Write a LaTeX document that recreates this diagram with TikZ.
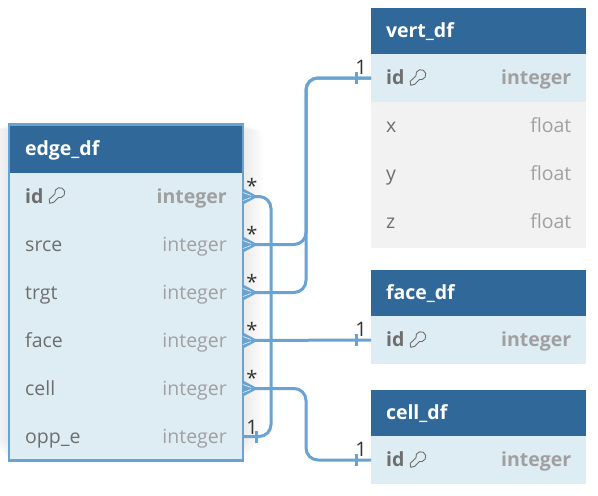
\documentclass[tikz,border=0pt]{standalone}
\usepackage{fontspec}
\setmainfont{Open Sans}
\usepackage{xcolor}
\usetikzlibrary{arrows.meta,positioning,fit,calc,backgrounds}
\definecolor{headblue}{HTML}{31689A}
\definecolor{rowblue}{HTML}{DEECF4}
\definecolor{rowgray}{HTML}{F2F2F2}
\definecolor{linkblue}{HTML}{69A3D2}
\definecolor{namegray}{HTML}{6E6E6E}
\definecolor{typegray}{HTML}{A0A0A0}
\begin{document}
\begin{tikzpicture}[
  x=1pt, y=-1pt,
  cellfont/.style={inner sep=0pt, text height=16pt, text depth=3pt, font=\fontsize{19.5}{22}\selectfont},
  boldfont/.style={inner sep=0pt, text height=16pt, text depth=3pt, font=\fontsize{19.5}{22}\selectfont\bfseries},
  tblhead/.style={rectangle, fill=headblue, minimum height=48pt, outer sep=0pt, text=white, boldfont},
  keyrow/.style={rectangle, fill=rowblue, minimum height=48pt, inner sep=0pt, outer sep=0pt},
  plainrow/.style={rectangle, fill=rowgray, minimum height=48pt, inner sep=0pt, outer sep=0pt},
  colname/.style={anchor=west, text=namegray, cellfont},
  keyname/.style={anchor=west, text=namegray, boldfont},
  coltype/.style={anchor=east, text=typegray, cellfont},
  keytype/.style={anchor=east, text=typegray, boldfont},
  rel/.style={draw=linkblue, line width=3pt},
  card/.style={text=black!80, inner sep=0pt, font=\fontsize{20}{22}\selectfont},
  keyicon/.pic={
    \draw[namegray, line width=0.9pt, line join=round, scale=1.12]
      (-1.85,-1.84) arc[start angle=165, end angle=465, radius=4.5] -- (-3,5.7) -- (-6.5,6.5) -- (-7,3) -- cycle;
  }
]
\useasboundingbox (0,0) rectangle (598,496);

% edge table
\node[tblhead, minimum width=234pt] (ehead) at (126,148.5) {};
\node[keyrow, minimum width=234pt, below=0pt of ehead] (eid) {};
\node[keyrow, minimum width=234pt, below=0pt of eid] (esrce) {};
\node[keyrow, minimum width=234pt, below=0pt of esrce] (etrgt) {};
\node[keyrow, minimum width=234pt, below=0pt of etrgt] (eface) {};
\node[keyrow, minimum width=234pt, below=0pt of eface] (ecell) {};
\node[keyrow, minimum width=234pt, below=0pt of ecell] (eopp) {};
\node[fit=(ehead)(eopp), draw=linkblue, line width=2.4pt, inner sep=0pt] (etable) {};

\node[tblhead, fill=none, minimum height=0pt, anchor=west] (etitle) at ([xshift=16pt]ehead.west) {edge\_df};
\node[keyname] (n1) at ([xshift=16pt]eid.west) {id};
\pic at (57,196) {keyicon};
\node[keytype] (t1) at ([xshift=-16pt]eid.east) {integer};
\node[colname] (n2) at ([xshift=16pt]esrce.west) {srce};
\node[coltype] (t2) at ([xshift=-16pt]esrce.east) {integer};
\node[colname] (n3) at ([xshift=16pt]etrgt.west) {trgt};
\node[coltype] (t3) at ([xshift=-16pt]etrgt.east) {integer};
\node[colname] (n4) at ([xshift=16pt]eface.west) {face};
\node[coltype] (t4) at ([xshift=-16pt]eface.east) {integer};
\node[colname] (n5) at ([xshift=16pt]ecell.west) {cell};
\node[coltype] (t5) at ([xshift=-16pt]ecell.east) {integer};
\node[colname] (n6) at ([xshift=16pt]eopp.west) {opp\_e};
\node[coltype] (t6) at ([xshift=-16pt]eopp.east) {integer};

% vert table
\node[tblhead, minimum width=215pt, minimum height=46pt] (vhead) at (478.5,31) {};
\node[keyrow, minimum width=215pt, below=0pt of vhead] (vid) {};
\node[plainrow, minimum width=215pt, below=0pt of vid] (vx) {};
\node[plainrow, minimum width=215pt, below=0pt of vx] (vy) {};
\node[plainrow, minimum width=215pt, minimum height=50pt, below=0pt of vy] (vz) {};

\node[tblhead, fill=none, minimum height=0pt, anchor=west] (vtitle) at ([xshift=15pt]vhead.west) {vert\_df};
\node[keyname] (vn1) at ([xshift=15pt]vid.west) {id};
\pic at (418,78) {keyicon};
\node[keytype] (vt1) at ([xshift=-14.5pt]vid.east) {integer};
\node[colname] (vn2) at ([xshift=15pt]vx.west) {x};
\node[coltype] (vt2) at ([xshift=-14.5pt]vx.east) {float};
\node[colname] (vn3) at ([xshift=15pt]vy.west) {y};
\node[coltype] (vt3) at ([xshift=-14.5pt]vy.east) {float};
\node[colname] (vn4) at ([xshift=15pt,yshift=1pt]vz.west) {z};
\node[coltype] (vt4) at ([xshift=-14.5pt,yshift=1pt]vz.east) {float};

% face table
\node[tblhead, minimum width=215pt, minimum height=46pt] (fhead) at (478.5,293) {};
\node[keyrow, minimum width=215pt, below=0pt of fhead] (fid) {};
\node[tblhead, fill=none, minimum height=0pt, anchor=west] (ftitle) at ([xshift=15pt]fhead.west) {face\_df};
\node[keyname] (fn1) at ([xshift=15pt]fid.west) {id};
\pic at (418,340) {keyicon};
\node[keytype] (ft1) at ([xshift=-14.5pt]fid.east) {integer};

% cell table
\node[tblhead, minimum width=215pt, minimum height=46pt] (chead) at (478.5,413) {};
\node[keyrow, minimum width=215pt, below=0pt of chead] (cid) {};
\node[tblhead, fill=none, minimum height=0pt, anchor=west] (ctitle) at ([xshift=15pt]chead.west) {cell\_df};
\node[keyname] (cn1) at ([xshift=15pt]cid.west) {id};
\pic at (418,460) {keyicon};
\node[keytype] (ct1) at ([xshift=-14.5pt]cid.east) {integer};

% links
\draw[rel, rounded corners=12pt] (eid.east) -- ++(28,0) |- (eopp.east);
\draw[rel, rounded corners=12pt] (esrce.east) -- ++(63,0) |- (vid.west);
\draw[rel, rounded corners=12pt] (etrgt.east) -- ++(63,0) |- (vid.west);
\draw[rel] (eface.east) -- (fid.west);
\draw[rel, rounded corners=12pt] (ecell.east) -- ++(63,0) |- (cid.west);

% crow feet
\foreach \row in {eid,esrce,etrgt,eface,ecell}{
  \fill[linkblue] ([xshift=15pt]\row.east) -- ([yshift=8pt]\row.east) -- ([yshift=-8pt]\row.east) -- cycle;
  \draw[white, line width=0.5pt] ([xshift=8pt,yshift=1pt]\row.east) -- ([yshift=4pt]\row.east);
  \draw[white, line width=0.5pt] ([xshift=8pt,yshift=-1pt]\row.east) -- ([yshift=-4pt]\row.east);
  \node[card] at ([xshift=9pt,yshift=11pt]\row.east) {*};
}

% one ends
\draw[rel] ([xshift=13pt,yshift=-6pt]eopp.east) -- ([xshift=13pt,yshift=6pt]eopp.east);
\draw[rel] ([xshift=-15pt,yshift=-6pt]vid.west) -- ([xshift=-15pt,yshift=6pt]vid.west);
\draw[rel] ([xshift=-15pt,yshift=-6pt]fid.west) -- ([xshift=-15pt,yshift=6pt]fid.west);
\draw[rel] ([xshift=-15pt,yshift=-6pt]cid.west) -- ([xshift=-15pt,yshift=6pt]cid.west);
\node[card] at ([xshift=9pt,yshift=9pt]eopp.east) {1};
\node[card] at ([xshift=-10pt,yshift=11pt]vid.west) {1};
\node[card] at ([xshift=-10pt,yshift=11pt]fid.west) {1};
\node[card] at ([xshift=-10pt,yshift=11pt]cid.west) {1};

\begin{scope}[on background layer]
  \fill[white] (0,0) rectangle (598,496);
  \foreach \grow in {1,2,...,20}{
    \fill[black, opacity=0.0025, rounded corners=8pt]
      ([shift={(-\grow pt,-0.3*\grow pt)}]etable.north west) rectangle ([shift={(\grow pt,\grow pt)}]etable.south east);
  }
\end{scope}
\end{tikzpicture}
\end{document}
